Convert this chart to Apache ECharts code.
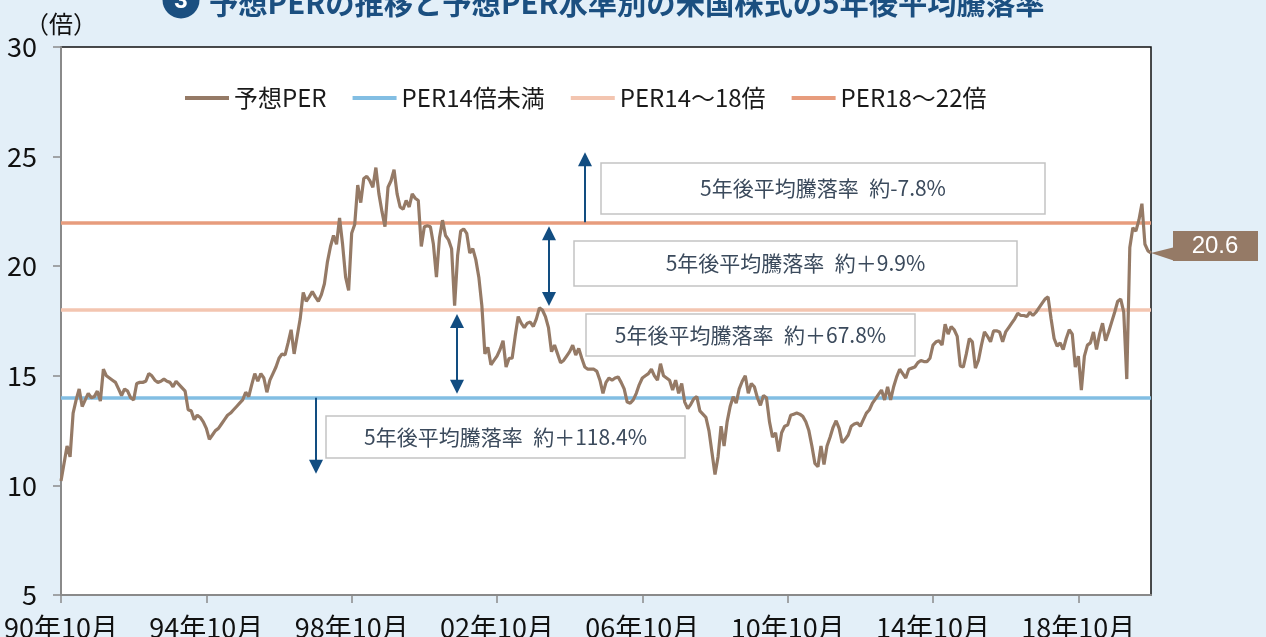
<!DOCTYPE html>
<html><head><meta charset="utf-8">
<script src="https://cdn.jsdelivr.net/npm/echarts@6/dist/echarts.min.js"></script>
<style>html,body{margin:0;padding:0;background:#e3eff8;}#c{width:1266px;height:637px;}</style>
</head><body><div id="c"></div>
<script>
// ---- data ----
const startYear = 1990, startMonth = 10, monthCount = 361;
const categories = [];
for (let i = 0; i < monthCount; i++) {
  const t = startYear * 12 + (startMonth - 1) + i;
  const y = Math.floor(t / 12), mo = t % 12 + 1;
  categories.push(String(y % 100).padStart(2, '0') + '年' + mo + '月');
}
const seriesNames = ['予想PER', 'PER14倍未満', 'PER14～18倍', 'PER18～22倍'];
const levelValues = [14, 18, 22];
const per = [
10.2,11.0,11.8,11.3,13.3,13.9,14.4,13.6,13.9,14.2,14.0,14.05,14.3,
13.85,15.3,15.0,14.9,14.8,14.7,14.4,14.1,14.4,14.3,14.0,13.9,
14.65,14.7,14.7,14.75,15.1,15.0,14.8,14.7,14.75,14.85,14.75,14.7,
14.5,14.75,14.6,14.45,14.3,13.45,13.4,13.0,13.2,13.1,12.9,12.6,
12.1,12.3,12.5,12.6,12.8,13.0,13.2,13.3,13.45,13.6,13.75,13.9,
14.25,14.05,14.6,15.1,14.75,15.1,14.9,14.25,14.8,15.1,15.4,15.8,
16.0,15.95,16.5,17.1,16.0,16.8,17.6,18.8,18.4,18.6,18.85,18.6,
18.4,18.7,19.2,20.2,20.9,21.4,21.0,22.2,21.0,19.5,18.9,21.5,
21.9,23.7,22.9,24.0,24.1,23.9,23.6,24.5,23.3,22.5,21.8,23.6,
23.9,24.4,23.3,22.7,22.6,23.0,22.7,23.3,23.1,23.0,20.9,21.8,
21.85,21.8,21.0,19.5,21.3,22.1,21.4,21.2,20.8,18.2,20.5,21.6,
21.7,21.5,20.6,20.8,20.3,19.5,18.2,16.0,16.3,15.5,15.7,15.9,
16.2,16.6,15.4,15.8,15.8,16.8,17.7,17.4,17.2,17.4,17.45,17.25,
17.6,18.1,18.0,17.7,17.2,16.1,16.4,16.0,15.6,15.7,15.9,16.1,
16.4,15.95,16.25,15.8,15.4,15.3,15.3,15.3,15.2,14.8,14.2,14.7,
14.9,14.8,14.9,14.95,14.7,14.4,13.8,13.75,13.9,14.2,14.6,14.9,
15.0,15.1,15.3,15.0,14.8,15.55,15.0,14.9,14.8,14.35,14.8,14.2,
14.65,13.8,13.5,13.7,13.95,14.05,13.4,13.25,13.1,12.5,11.5,10.5,
11.3,12.7,11.8,12.9,13.6,14.05,13.75,14.4,14.75,15.0,14.2,14.65,
14.5,14.0,13.65,14.1,14.0,12.9,12.2,12.4,11.55,12.4,12.7,12.75,
13.2,13.25,13.3,13.25,13.15,12.9,12.5,11.8,11.0,10.85,11.8,10.95,
11.8,12.2,12.65,12.95,12.6,11.95,12.1,12.3,12.7,12.8,12.85,12.7,
13.0,13.3,13.45,13.75,13.95,14.15,14.35,13.9,14.5,13.9,14.5,14.95,
15.3,15.1,14.9,15.3,15.35,15.4,15.6,15.7,15.65,15.65,15.8,16.4,
16.55,16.6,16.4,17.35,16.9,17.25,17.1,16.8,15.45,15.4,16.0,16.7,
16.55,15.35,15.7,16.4,17.0,16.8,16.55,17.05,17.05,17.0,16.55,17.0,
17.2,17.4,17.6,17.85,17.75,17.75,17.7,17.9,17.75,17.9,18.1,18.3,
18.5,18.6,17.6,16.7,16.35,16.5,16.2,16.7,17.1,16.9,15.4,15.9,
14.35,15.9,16.4,16.5,17.0,16.2,16.9,17.4,16.6,17.0,17.45,17.9,
18.4,18.5,17.9,14.85,20.85,21.75,21.6,22.1,22.85,21.0,20.7,20.6
];
const annotationTexts = [
  '5年後平均騰落率\u2002約-7.8%',
  '5年後平均騰落率\u2002約＋9.9%',
  '5年後平均騰落率\u2002約＋67.8%',
  '5年後平均騰落率\u2002約＋118.4%'
];
const titleText = '予想PERの推移と予想PER水準別の米国株式の5年後平均騰落率';
const unitText = '（倍）';

// ---- styles ----
const C_BROWN = '#957a66', C_BLUE = '#82bee3', C_PEACH = '#f3c5b0', C_SALMON = '#e79c7d';
const C_ARROW = '#124d81', C_TITLE = '#1b4f80', C_NOTE = '#3b4a5c';
const FONT = "'Noto Sans CJK JP', sans-serif";
const NARROW = "'Liberation Sans Narrow', 'Arial Narrow', 'Noto Sans CJK JP', sans-serif";

const chart = echarts.init(document.getElementById('c'));
const levelColors = [C_BLUE, C_PEACH, C_SALMON];
const option = {
  animation: false,
  backgroundColor: '#e3eff8',
  grid: { left: 61, top: 47, right: 115, bottom: 42, outerBoundsMode: 'none', containLabel: false,
    show: true, backgroundColor: '#fff', borderColor: '#111', borderWidth: 1.5 },
  legend: {
    data: seriesNames, left: 180, top: 81, icon: 'rect', itemWidth: 44, itemHeight: 4, itemGap: 26,
    textStyle: { fontSize: 24, color: '#1a1a1a', fontFamily: FONT }
  },
  xAxis: {
    type: 'category', data: categories, boundaryGap: false,
    axisLine: { lineStyle: { color: '#8a8a8a', width: 2 } },
    axisTick: { interval: 47, length: 8, lineStyle: { color: '#8a8a8a', width: 1.5 } },
    axisLabel: { interval: 47, fontSize: 27, color: '#111', fontFamily: NARROW, margin: 19 },
    splitLine: { show: false }
  },
  yAxis: {
    type: 'value', min: 5, max: 30, interval: 5,
    axisLine: { show: true, lineStyle: { color: '#8a8a8a', width: 2 } },
    axisTick: { show: true, length: 8, lineStyle: { color: '#8a8a8a', width: 1.5 } },
    axisLabel: { fontSize: 27, color: '#111', fontFamily: NARROW, margin: 24 },
    splitLine: { show: false }
  },
  series: [
    { name: seriesNames[0], type: 'line', data: per, symbol: 'none', z: 5,
      color: C_BROWN, lineStyle: { color: C_BROWN, width: 3.2 } }
  ].concat(levelValues.map((v, i) => ({
    name: seriesNames[i + 1], type: 'line', data: [], symbol: 'none', z: 3,
    color: levelColors[i], lineStyle: { color: levelColors[i], width: 3 },
    markLine: { silent: true, symbol: ['none', 'none'], label: { show: false },
      lineStyle: { color: levelColors[i], width: 3.5, type: 'solid' }, data: [{ yAxis: v }] }
  })))
};
chart.setOption(option);

// ---- annotations ----
const py = v => chart.convertToPixel({ yAxisIndex: 0 }, v);
const px = i => chart.convertToPixel({ xAxisIndex: 0 }, i);
const y14 = py(levelValues[0]), y18 = py(levelValues[1]), y22 = py(levelValues[2]);
const els = [];
function arrow(x, yTop, yBot, up, down) {
  const hw = 7, hh = 14;
  els.push({ type: 'line', z: 20, shape: { x1: x, y1: up ? yTop + hh - 1 : yTop, x2: x, y2: down ? yBot - hh + 1 : yBot }, style: { stroke: C_ARROW, lineWidth: 2 } });
  if (up) els.push({ type: 'polygon', z: 20, shape: { points: [[x, yTop], [x - hw, yTop + hh], [x + hw, yTop + hh]] }, style: { fill: C_ARROW } });
  if (down) els.push({ type: 'polygon', z: 20, shape: { points: [[x, yBot], [x - hw, yBot - hh], [x + hw, yBot - hh]] }, style: { fill: C_ARROW } });
}
arrow(585, y22 - 70, y22, true, false);
arrow(549, y22 + 4, y18 - 4, true, true);
arrow(457, y18 + 4, y14 - 4, true, true);
arrow(316, y14, y14 + 76, false, true);

const boxes = [[601, 163, 444, 51], [574, 241, 443, 45], [586, 314, 329, 42], [326, 416, 359, 42]];
boxes.forEach((b, i) => {
  els.push({ type: 'rect', z: 18, shape: { x: b[0], y: b[1], width: b[2], height: b[3] }, style: { fill: '#fff', stroke: '#c3c3c3', lineWidth: 1.5 } });
  els.push({ type: 'text', z: 19, style: { x: b[0] + b[2] / 2, y: b[1] + b[3] / 2, text: annotationTexts[i], fill: C_NOTE, font: '21px ' + FONT, align: 'center', verticalAlign: 'middle' } });
});

// last-value callout
const lastI = per.length - 1, lastV = per[lastI];
const lx = px(lastI), ly = py(lastV);
els.push({ type: 'polygon', z: 20, shape: { points: [[lx, ly], [lx + 24, ly - 6], [lx + 24, ly + 8]] }, style: { fill: C_BROWN } });
els.push({ type: 'rect', z: 20, shape: { x: lx + 22, y: ly - 22, width: 85, height: 30 }, style: { fill: C_BROWN } });
els.push({ type: 'text', z: 21, style: { x: lx + 64, y: ly - 7, text: lastV.toFixed(1), fill: '#fff', font: "24px 'Liberation Sans', Arial, sans-serif", align: 'center', verticalAlign: 'middle' } });

// title and unit
els.push({ type: 'circle', z: 20, shape: { cx: 181, cy: 0, r: 18.5 }, style: { fill: C_TITLE } });
els.push({ type: 'text', z: 21, style: { x: 181, y: 1, text: '3', fill: '#fff', font: "bold 24px 'Liberation Sans', Arial, sans-serif", align: 'center', verticalAlign: 'middle' } });
els.push({ type: 'text', z: 20, style: { x: 209, y: 3, text: titleText, fill: C_TITLE, font: 'bold 29.3px ' + FONT, align: 'left', verticalAlign: 'middle' } });
els.push({ type: 'text', z: 20, style: { x: 25, y: 24, text: unitText, fill: '#111', font: '24px ' + FONT, align: 'left', verticalAlign: 'middle' } });

chart.setOption({ graphic: { elements: els } });
</script></body></html>
